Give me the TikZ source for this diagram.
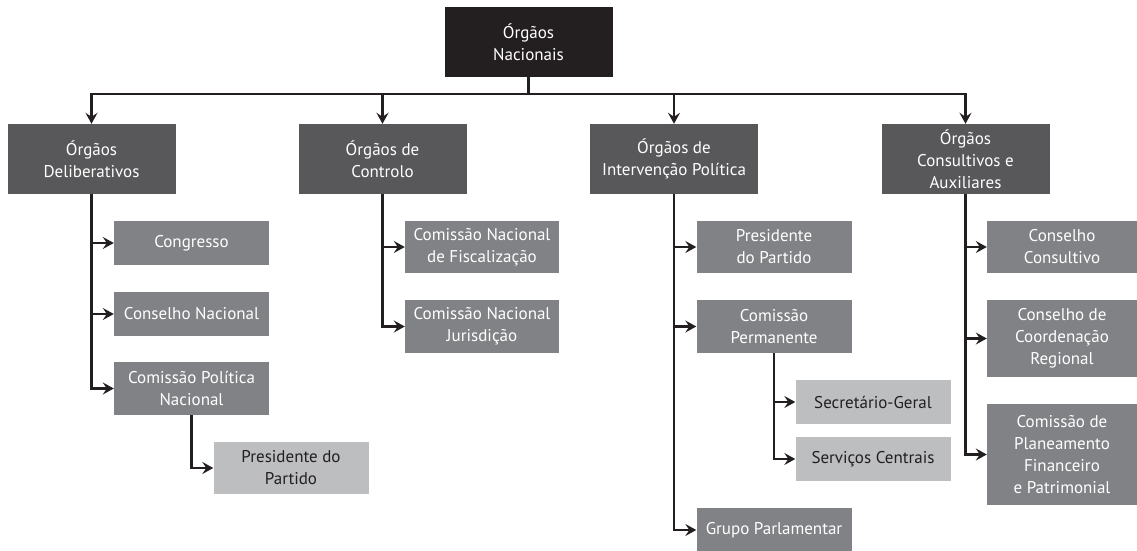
\documentclass[tikz,border=0pt]{standalone}
\usepackage{fontspec}
\setmainfont{PT Sans}
\usetikzlibrary{arrows.meta}

\definecolor{topgray}{HTML}{231F20}
\definecolor{darkgray}{HTML}{58585A}
\definecolor{midgray}{HTML}{808285}
\definecolor{lightgray}{HTML}{BCBEC0}

\tikzset{
    box/.style = {rectangle, inner sep=0pt, align=center, text=white,
        font=\fontsize{17}{22}\selectfont},
    topbox/.style = {box, fill=topgray, minimum width=168, minimum height=70},
    mainbox/.style = {box, fill=darkgray, minimum width=168, minimum height=70},
    subbox/.style = {box, fill=midgray, minimum width=155},
    leafbox/.style = {box, fill=lightgray, text=topgray, minimum width=155},
    link/.style = {draw=topgray, line width=2.2pt, -{Stealth[length=11pt,width=12pt,inset=4pt]}},
}

\begin{document}
\begin{tikzpicture}[x=1pt, y=-1pt]
    \useasboundingbox (0,0) rectangle (1137,551);

    \node[topbox] (nac) at (528.5,42) {Órgãos\\Nacionais};
    \coordinate (bus) at (528.5,94);

    \node[mainbox] (delib)   at (91.5,159)  {Órgãos\\Deliberativos};
    \node[mainbox] (ctrl)    at (382.5,159) {Órgãos de\\Controlo};
    \node[mainbox] (interv)  at (674,159)   {Órgãos de\\Intervenção Política};
    \node[mainbox] (consult) at (965.5,159) {Órgãos\\Consultivos e\\Auxiliares};

    % deliberativos
    \node[subbox, minimum height=44] (congresso) at (191.5,243)   {Congresso};
    \node[subbox, minimum height=44] (conselho)  at (191.5,314)   {Conselho Nacional};
    \node[subbox, minimum height=53] (cpn)       at (191.5,388.5) {Comissão Política\\Nacional};
    \node[leafbox, minimum height=52] (pres1)    at (291,468)     {Presidente do\\Partido};

    % controlo
    \node[subbox, minimum width=154, minimum height=52] (fisc)  at (482,247)   {Comissão Nacional\\de Fiscalização};
    \node[subbox, minimum width=154, minimum height=53] (juris) at (482,326.5) {Comissão Nacional\\Jurisdição};

    % intervencao politica
    \node[subbox, minimum height=52] (pres2) at (774,247)   {Presidente\\do Partido};
    \node[subbox, minimum height=53] (cperm) at (774,326.5) {Comissão\\Permanente};
    \node[leafbox, minimum height=44] (secg) at (873,402)   {Secretário-Geral};
    \node[leafbox, minimum height=44] (serv) at (873,459)   {Serviços Centrais};
    \node[subbox, minimum height=44] (grupo) at (774,530)   {Grupo Parlamentar};

    % consultivos
    \node[subbox, minimum width=150, minimum height=52]  (ccons)  at (1062,247)   {Conselho\\Consultivo};
    \node[subbox, minimum width=150, minimum height=77]  (ccoord) at (1062,338.5) {Conselho de\\Coordenação\\Regional};
    \node[subbox, minimum width=150, minimum height=101] (cplan)  at (1062,454.5) {Comissão de\\Planeamento\\Financeiro\\e Patrimonial};

    \draw[link, -] (nac.south) -- (bus);
    \foreach \n in {delib, ctrl, interv, consult}
        \draw[link] (bus) -| (\n.north);

    \foreach \n in {congresso, conselho, cpn}
        \draw[link] (delib.south) |- (\n.west);
    \draw[link] (cpn.south) |- (pres1.west);

    \foreach \n in {fisc, juris}
        \draw[link] (ctrl.south) |- (\n.west);

    \foreach \n in {pres2, cperm, grupo}
        \draw[link] (interv.south) |- (\n.west);
    \foreach \n in {secg, serv}
        \draw[link] (cperm.south) |- (\n.west);

    \foreach \n in {ccons, ccoord, cplan}
        \draw[link] (consult.south) |- (\n.west);
\end{tikzpicture}
\end{document}
